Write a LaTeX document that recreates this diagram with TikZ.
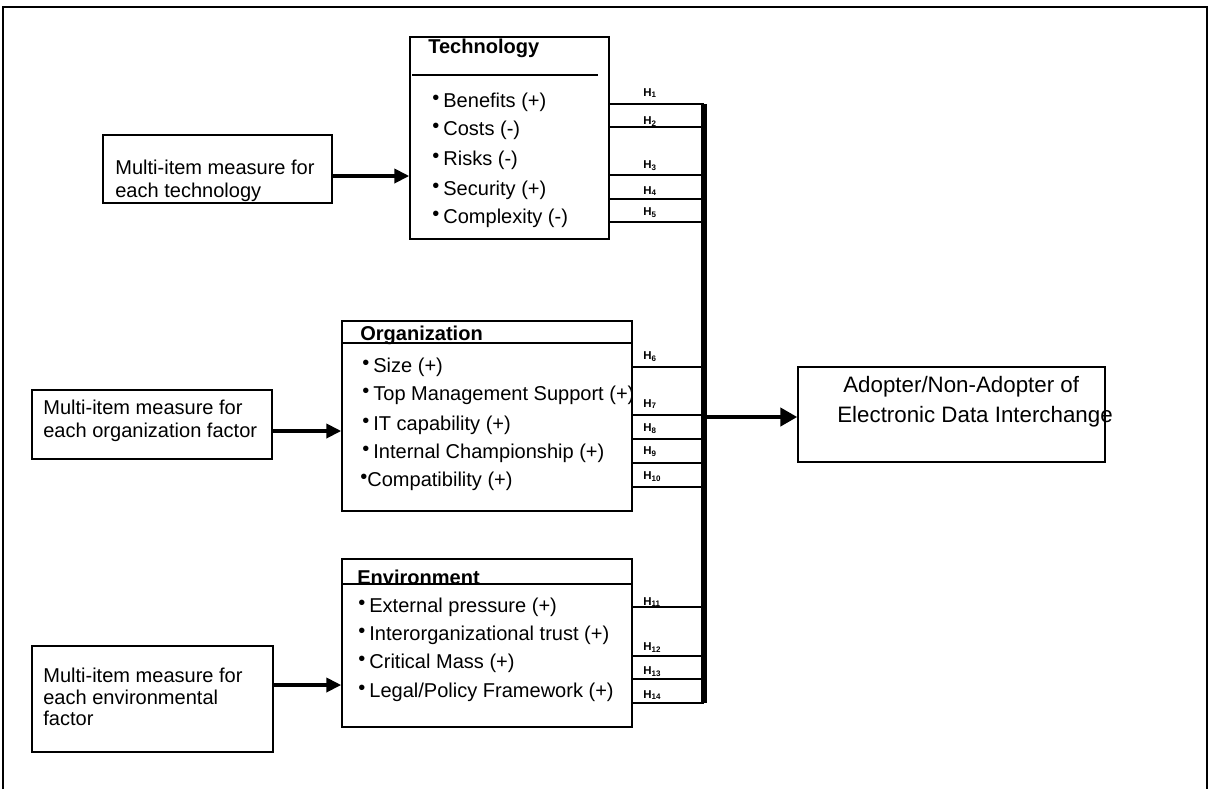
\documentclass[tikz,border=0pt]{standalone}
\usepackage{fontspec}
\setmainfont{Liberation Sans}
\usetikzlibrary{positioning,fit,arrows.meta}

\newcommand{\itembullet}{\raisebox{0.25ex}{\textbullet}\hspace{0.2em}}

\tikzset{
  box/.style={draw, line width=0.8pt, inner sep=0pt},
  item/.style={anchor=west, inner sep=0pt, font=\fontsize{11.4}{13}\selectfont},
  title/.style={anchor=west, inner sep=0pt, font=\bfseries\fontsize{11.4}{13}\selectfont},
  hlab/.style={anchor=west, inner sep=0pt, font=\bfseries\fontsize{6.5}{7}\selectfont},
  hline/.style={line width=0.8pt},
  feed/.style={line width=2.2pt, -{Triangle[length=0.3cm,width=0.28cm]}},
  mainarrow/.style={line width=2.8pt, -{Triangle[length=0.34cm,width=0.36cm]}},
}

\begin{document}
\begin{tikzpicture}[x=0.02cm,y=-0.02cm]
\useasboundingbox (0,0) rectangle (1210,789);
% outer frame, open at the bottom
\draw[line width=0.6pt] (3,789) -- (3,7) -- (1207,7) -- (1207,789);

% factor boxes
\node[box, fit={(410,37) (609,239)}] (tech) {};
\node[box, fit={(342,321) (632,511)}] (org) {};
\node[box, fit={(342,559) (632,727)}] (env) {};
\draw[hline] (412,75) -- (598,75);
\draw[hline] (org.west |- 0,343) -- (org.east |- 0,343);
\draw[hline] (env.west |- 0,584) -- (env.east |- 0,584);
\node[title] (techtitle) at (428,48) {Technology};
\node[title] (orgtitle) at (360,335) {Organization};
\node[title] (envtitle) at (357,577) {Environment};

\foreach \y/\txt [count=\i] in {102/Benefits (+),130/Costs (-),160/Risks (-),190/Security (+),218/Complexity (-)} {
\node[item] (tech-\i) at (432,\y) {\itembullet\txt};
}
\foreach \y/\txt [count=\i] in {367/Size (+),395/Top Management Support (+),425/IT capability (+),453/Internal Championship (+)} {
\node[item] (org-\i) at (362,\y) {\itembullet\txt};
}
\node[item] (org-5) at (360,481) {\raisebox{0.25ex}{\textbullet}Compatibility (+)};
\foreach \y/\txt [count=\i] in {607/External pressure (+),635/Interorganizational trust (+),663/Critical Mass (+),692/{Legal/Policy Framework (+)}} {
\node[item] (env-\i) at (358,\y) {\itembullet\txt};
}

% measure boxes
\node[box, fit={(103,135) (332,203)}] (mtech) {};
\begin{scope}
\clip (103,135) rectangle (332,203);
\node[item, align=left] (mtechtxt) at (115,181) {Multi-item measure for\\each technology};
\end{scope}
\node[box, fit={(32,390) (272,459)}] (morg) {};
\node[item, align=left] (morgtxt) at (43,421) {Multi-item measure for\\each organization factor};
\node[box, fit={(32,646) (273,752)}] (menv) {};
\node[item, align=left, font=\fontsize{11.4}{12.4}\selectfont] (menvtxt) at (43,697) {Multi-item measure for\\each environmental\\factor};

\coordinate (in1) at (332,176);
\coordinate (in2) at (272,431);
\coordinate (in3) at (273,685);
\draw[feed] (in1) -- (in1 -| tech.west);
\draw[feed] (in2) -- (in2 -| org.west);
\draw[feed] (in3) -- (in3 -| env.west);

% hypothesis links
\foreach \y/\ly/\n in {104/93/1,127/122/2,175/166/3,199/191/4,222/213/5} {
\coordinate (h\n) at (704,\y);
\draw[hline] (h\n -| tech.east) -- (h\n);
\node[hlab] at (643,\ly) {H\textsubscript{\n}};
}
\foreach \y/\ly/\n in {367/357/6,415/404/7,439/429/8,463/452/9,487/477/10} {
\coordinate (h\n) at (704,\y);
\draw[hline] (h\n -| org.east) -- (h\n);
\node[hlab] at (643,\ly) {H\textsubscript{\n}};
}
\foreach \y/\ly/\n in {607/602/11,656/648/12,679/672/13,703/695/14} {
\coordinate (h\n) at (704,\y);
\draw[hline] (h\n -| env.east) -- (h\n);
\node[hlab] at (643,\ly) {H\textsubscript{\n}};
}
\draw[line width=3pt] (h1) -- (h14);

% outcome
\node[box, fit={(798,367) (1105,462)}] (result) {};
\node[item, font=\fontsize{12.7}{14}\selectfont] (resulttop) at (843,387) {Adopter/Non-Adopter of};
\node[item, font=\fontsize{12.7}{14}\selectfont] (resultbot) at (837,417) {Electronic Data Interchange};
\coordinate (hout) at (704,417);
\draw[mainarrow] (hout) -- (hout -| result.west);
\end{tikzpicture}
\end{document}
